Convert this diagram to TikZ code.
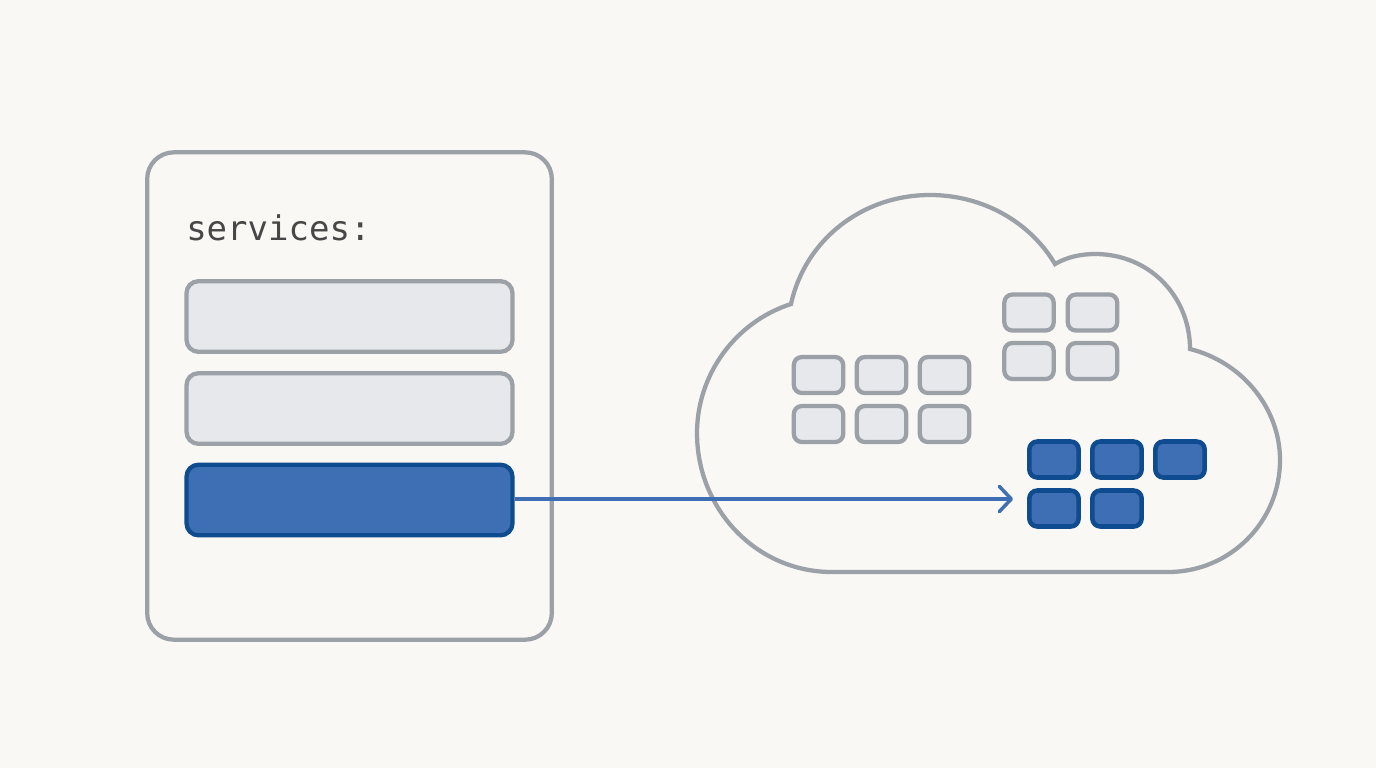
\documentclass[tikz,border=0pt]{standalone}
\usepackage{fontspec}
\setmonofont{DejaVu Sans Mono}
\usetikzlibrary{arrows.meta}
\definecolor{bgc}{HTML}{F9F8F5}
\definecolor{edgegray}{HTML}{9CA0A7}
\definecolor{fillgray}{HTML}{E6E8EB}
\definecolor{blueedge}{HTML}{0F4C8F}
\definecolor{bluefill}{HTML}{3E6EB3}
\definecolor{textc}{HTML}{474747}
\tikzset{
  x=0.75pt,y=-0.75pt,
  panel/.style={draw=edgegray,line width=3.2pt,rounded corners=20pt,fill=bgc,minimum width=303.5pt,minimum height=365.5pt,inner sep=0pt},
  rowgray/.style={draw=edgegray,line width=3.2pt,rounded corners=9pt,fill=fillgray,minimum width=244.5pt,minimum height=53pt,inner sep=0pt},
  rowblue/.style={rowgray,draw=blueedge,fill=bluefill},
  podgray/.style={draw=edgegray,line width=3.2pt,rounded corners=6pt,fill=fillgray,minimum width=37pt,minimum height=27pt,inner sep=0pt},
  podblue/.style={podgray,draw=blueedge,fill=bluefill,line width=3.4pt},
  cloudline/.style={draw=edgegray,line width=3.2pt,line join=miter},
  link/.style={draw=bluefill,line width=2.6pt,-{Straight Barb[length=9pt,width=19pt,line width=2.6pt,round]}}
}
\begin{document}
\begin{tikzpicture}
\useasboundingbox (0,0) rectangle (1376,768);
\fill[bgc] (0,0) rectangle (1376,768);
\node[panel] (file) at (349.5,396) {};
\node[anchor=base west,inner sep=0pt,text=textc,font=\ttfamily\fontsize{25.5pt}{30pt}\selectfont] (title) at (186,240) {services:};
\node[rowgray] (r1) at (349.5,316.5) {};
\node[rowgray] (r2) at (349.5,408.5) {};
\node[rowblue] (r3) at (349.5,500) {};
\path[cloudline] (832,572)
  .. controls (757,572) and (697,510) .. (697,433)
  .. controls (697,375) and (735,322) .. (791,304)
  .. controls (805,240) and (862,195) .. (930,195)
  .. controls (983,195) and (1030,222) .. (1055,264)
  .. controls (1067,257) and (1081,254) .. (1095,254)
  .. controls (1150,254) and (1190,297) .. (1190,349)
  .. controls (1242,362) and (1280,408) .. (1280,460)
  .. controls (1280,522) and (1230,572) .. (1168,572)
  -- cycle;
\node[podgray] (a1) at (818.5,375) {};
\node[podgray] (a2) at (881.5,375) {};
\node[podgray] (a3) at (944.5,375) {};
\node[podgray] (a4) at (818.5,424) {};
\node[podgray] (a5) at (881.5,424) {};
\node[podgray] (a6) at (944.5,424) {};
\node[podgray] (b1) at (1029,312.5) {};
\node[podgray] (b2) at (1092.5,312.5) {};
\node[podgray] (b3) at (1029,361) {};
\node[podgray] (b4) at (1092.5,361) {};
\node[podblue] (c1) at (1054,459.5) {};
\node[podblue] (c2) at (1117,459.5) {};
\node[podblue] (c3) at (1180,459.5) {};
\node[podblue] (c4) at (1054,508.5) {};
\node[podblue] (c5) at (1117,508.5) {};
\coordinate (target) at (1013,499);
\draw[link] (r3.east |- target) -- (target);
\end{tikzpicture}
\end{document}
